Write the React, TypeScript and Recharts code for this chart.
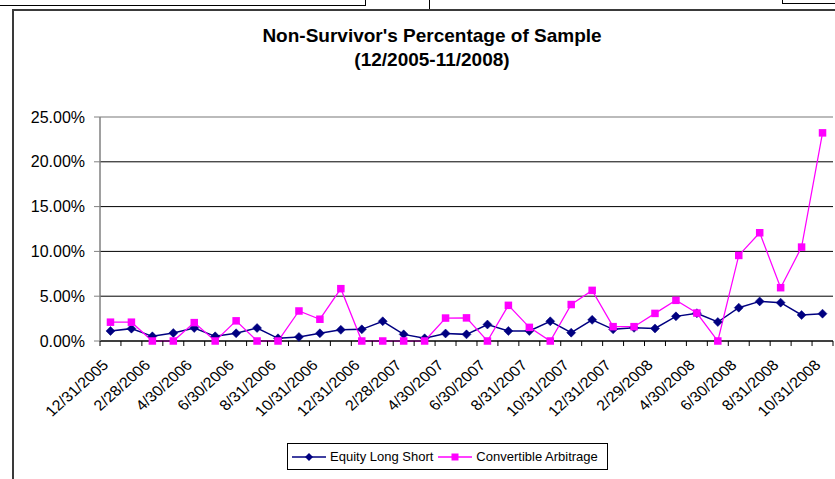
import {
  CartesianGrid,
  Legend,
  Line,
  LineChart,
  ReferenceLine,
  XAxis,
  YAxis,
} from "recharts";

// month-end dates, 12/2005 - 10/2008
const dates = [
  "12/31/2005", "1/31/2006", "2/28/2006", "3/31/2006", "4/30/2006", "5/31/2006",
  "6/30/2006", "7/31/2006", "8/31/2006", "9/30/2006", "10/31/2006", "11/30/2006",
  "12/31/2006", "1/31/2007", "2/28/2007", "3/31/2007", "4/30/2007", "5/31/2007",
  "6/30/2007", "7/31/2007", "8/31/2007", "9/30/2007", "10/31/2007", "11/30/2007",
  "12/31/2007", "1/31/2008", "2/29/2008", "3/31/2008", "4/30/2008", "5/31/2008",
  "6/30/2008", "7/31/2008", "8/31/2008", "9/30/2008", "10/31/2008",
];

// values in percent
const equityLongShort = [
  1.12, 1.38, 0.52, 0.89, 1.45, 0.52, 0.86, 1.45, 0.3, 0.45, 0.86, 1.25,
  1.3, 2.2, 0.74, 0.3, 0.84, 0.74, 1.84, 1.12, 1.12, 2.2, 0.93, 2.36,
  1.3, 1.47, 1.4, 2.75, 3.1, 2.12, 3.72, 4.42, 4.28, 2.9, 3.05,
];

const convertibleArbitrage = [
  2.1, 2.1, 0, 0, 2.05, 0, 2.25, 0, 0, 3.35, 2.43, 5.84,
  0, 0, 0, 0, 2.56, 2.58, 0, 3.98, 1.52, 0, 4.07, 5.65,
  1.6, 1.6, 3.08, 4.54, 3.12, 0, 9.55, 12.08, 5.95, 10.48, 23.23,
];

const yTicks = [0, 5, 10, 15, 20, 25];

const data = dates.map((date, i) => ({
  date,
  els: equityLongShort[i],
  ca: convertibleArbitrage[i],
}));

const FONT = '"Liberation Sans", Arial, sans-serif';
const NAVY = "#000080";
const MAGENTA = "#ff00ff";
const PLOT_LEFT = 100;
const PLOT_RIGHT = 833;
const BAND = (PLOT_RIGHT - PLOT_LEFT) / dates.length;

function Diamond(props: any) {
  const { cx, cy } = props;
  if (cx == null || cy == null) return null;
  const r = 4.5;
  return (
    <path
      d={`M${cx},${cy - r}L${cx + r},${cy}L${cx},${cy + r}L${cx - r},${cy}Z`}
      fill={NAVY}
      stroke={NAVY}
      strokeWidth={0.5}
    />
  );
}

function Square(props: any) {
  const { cx, cy } = props;
  if (cx == null || cy == null) return null;
  return <rect x={cx - 3.75} y={cy - 3.75} width={7.5} height={7.5} fill={MAGENTA} />;
}

// the source picture is a little wider than tall, so the slanted labels are stretched sideways
function DateTick(props: any) {
  const { x, y, index, payload } = props;
  const half = BAND / 2;
  const ax = x - 1;
  const ay = y + 25;
  return (
    <g>
      <line x1={x - half} x2={x - half} y1={y} y2={y + 5} stroke="#000" />
      {index === dates.length - 1 && (
        <line x1={x + half} x2={x + half} y1={y} y2={y + 5} stroke="#000" />
      )}
      {index % 2 === 0 && (
        <text
          x={0}
          y={0}
          textAnchor="end"
          transform={`translate(${ax} ${ay}) scale(1.12 1) rotate(-45)`}
          fontSize={14.5}
          fontFamily={FONT}
          fill="#000"
        >
          {payload.value}
        </text>
      )}
    </g>
  );
}

function LegendBox() {
  const items = [
    { label: "Equity Long Short", color: NAVY, shape: "diamond" },
    { label: "Convertible Arbitrage", color: MAGENTA, shape: "square" },
  ];
  return (
    <div
      style={{
        width: 321,
        height: 27,
        boxSizing: "border-box",
        border: "1px solid #000",
        display: "flex",
        alignItems: "center",
        paddingLeft: 4,
        fontFamily: FONT,
        fontSize: 13,
        color: "#000",
        background: "#fff",
      }}
    >
      {items.map((it, i) => (
        <div key={it.label} style={{ display: "flex", alignItems: "center", marginLeft: i ? 5 : 0 }}>
          <svg width={34} height={10}>
            <line x1={0} x2={34} y1={5} y2={5} stroke={it.color} strokeWidth={1.5} />
            {it.shape === "diamond" ? (
              <path d="M17,1L21,5L17,9L13,5Z" fill={it.color} />
            ) : (
              <rect x={13.5} y={1.5} width={7} height={7} fill={it.color} />
            )}
          </svg>
          <span style={{ marginLeft: 4, whiteSpace: "nowrap" }}>{it.label}</span>
        </div>
      ))}
    </div>
  );
}

export default function App() {
  return (
    <div
      style={{
        position: "absolute",
        left: 0,
        top: 0,
        width: 835,
        height: 479,
        overflow: "hidden",
        background: "#fff",
        fontFamily: FONT,
      }}
    >
      {/* bits of neighbouring windows along the top edge */}
      <div style={{ position: "absolute", left: -2, top: -10, width: 366, height: 14, border: "1px solid #000" }} />
      <div style={{ position: "absolute", left: 429, top: -10, width: 500, height: 18, border: "1px solid #000" }} />
      <div style={{ position: "absolute", left: 782, top: -10, width: 100, height: 12, border: "1px solid #000", background: "#fff" }} />

      {/* chart frame */}
      <div style={{ position: "absolute", left: 12, top: 9, width: 900, height: 600, border: "2px solid #3a3a3a" }} />

      <div
        style={{
          position: "absolute",
          left: 0,
          top: 24,
          width: 864,
          textAlign: "center",
          fontWeight: "bold",
          fontSize: 19,
          lineHeight: "24px",
          color: "#000",
        }}
      >
        Non-Survivor's Percentage of Sample
        <br />
        (12/2005-11/2008)
      </div>

      <div style={{ position: "absolute", left: 0, top: 0 }}>
        <LineChart
          width={835}
          height={479}
          data={data}
          margin={{ top: 117, right: 835 - PLOT_RIGHT, bottom: 58, left: 0 }}
        >
          <CartesianGrid horizontal vertical={false} stroke="#000" strokeWidth={1} />
          <ReferenceLine y={25} stroke="#cfcfcf" strokeWidth={1.5} />
          <XAxis
            dataKey="date"
            interval={0}
            height={80}
            padding={{ left: BAND / 2, right: BAND / 2 }}
            axisLine={{ stroke: "#000" }}
            tickLine={false}
            tickSize={0}
            tickMargin={0}
            tick={<DateTick />}
          />
          <YAxis
            domain={[0, 25]}
            ticks={yTicks}
            interval={0}
            width={PLOT_LEFT}
            tickFormatter={(v: number) => v.toFixed(2) + "%"}
            axisLine={{ stroke: "#808080", strokeWidth: 1.5 }}
            tickLine={{ stroke: "#808080" }}
            tickSize={6}
            tickMargin={9}
            tick={{ fontSize: 16, fill: "#000", fontFamily: FONT }}
          />
          <Legend
            layout="horizontal"
            verticalAlign="middle"
            align="center"
            content={() => <LegendBox />}
            wrapperStyle={{ top: 443, left: 287, width: 321, height: 27 }}
          />
          <Line
            dataKey="els"
            name="Equity Long Short"
            stroke={NAVY}
            strokeWidth={1.5}
            dot={<Diamond />}
            activeDot={false}
            isAnimationActive={false}
          />
          <Line
            dataKey="ca"
            name="Convertible Arbitrage"
            stroke={MAGENTA}
            strokeWidth={1.25}
            dot={<Square />}
            activeDot={false}
            isAnimationActive={false}
          />
        </LineChart>
      </div>
    </div>
  );
}
